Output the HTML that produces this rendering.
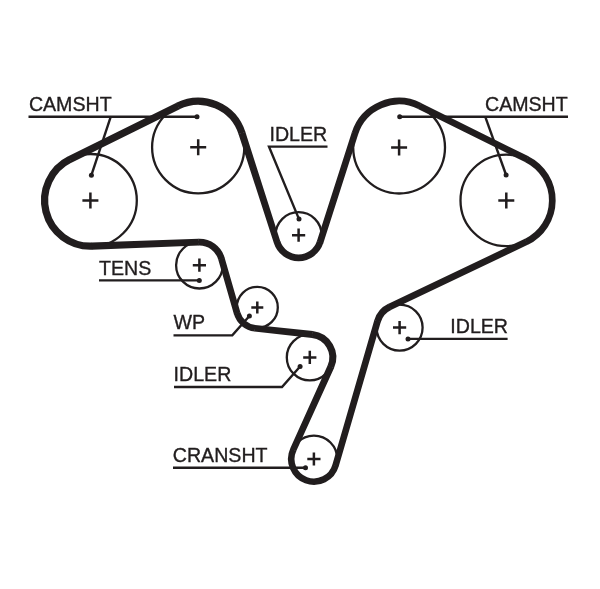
<!DOCTYPE html>
<html><head><meta charset="utf-8"><title>Timing belt diagram</title>
<style>
html,body{margin:0;padding:0;background:#fff;}
body{width:600px;height:589px;overflow:hidden;}
svg{display:block;will-change:transform;}
text{font-family:"Liberation Sans",sans-serif;font-size:19.6px;fill:#211d1e;stroke:#211d1e;stroke-width:0.35px;}
</style></head><body>
<svg width="600" height="589" viewBox="0 0 600 589">
<rect width="600" height="589" fill="#ffffff"/>
<path d="M68.21 156.21L176.48 102.71L179.67 109.16L71.44 162.75Z M245.32 131.80L280.37 241.39L273.99 243.44L238.46 134.01Z M316.84 241.36L351.81 132.14L358.19 134.19L323.22 243.40Z M420.96 102.91L528.52 156.34L525.54 162.34L417.98 108.91Z M527.78 244.83L390.91 310.03L387.98 303.89L524.90 238.78Z M380.86 321.84L338.69 466.52L332.35 464.68L374.33 319.94Z M290.18 448.60L327.69 365.16L334.07 368.05L296.19 451.32Z M312.22 338.05L254.36 331.57L255.08 324.91L312.98 331.09Z M233.98 314.41L218.20 259.49L224.64 257.64L240.42 312.56Z M198.97 245.55L91.94 249.83L91.66 242.53L198.72 238.86Z" fill="#211d1e"/>
<path d="M92.10 246.17A45.80 45.80 0 0 1 70.09 159.35" fill="none" stroke="#211d1e" stroke-width="7.30"/>
<path d="M177.80 106.07A46.00 46.00 0 0 1 241.98 133.19" fill="none" stroke="#211d1e" stroke-width="7.20"/>
<path d="M277.09 242.13A22.60 22.60 0 0 0 320.12 242.09" fill="none" stroke="#211d1e" stroke-width="6.70"/>
<path d="M354.91 133.45A46.40 46.40 0 0 1 419.74 106.04" fill="none" stroke="#211d1e" stroke-width="6.70"/>
<path d="M526.76 159.20A46.00 46.00 0 0 1 526.07 241.94" fill="none" stroke="#211d1e" stroke-width="6.70"/>
<path d="M389.72 306.83A23.00 23.00 0 0 0 377.51 321.18" fill="none" stroke="#211d1e" stroke-width="6.80"/>
<path d="M335.60 465.31A22.60 22.60 0 1 1 293.31 449.69" fill="none" stroke="#211d1e" stroke-width="6.60"/>
<path d="M330.76 366.88A23.00 23.00 0 0 0 312.30 334.54" fill="none" stroke="#211d1e" stroke-width="7.00"/>
<path d="M255.02 328.28A21.00 21.00 0 0 1 237.12 313.20" fill="none" stroke="#211d1e" stroke-width="6.70"/>
<path d="M221.51 258.85A23.00 23.00 0 0 0 198.55 242.22" fill="none" stroke="#211d1e" stroke-width="6.70"/>
<circle cx="90.4" cy="200.4" r="46.4" fill="none" stroke="#211d1e" stroke-width="2.30"/>
<path d="M82.4 200.4H98.4M90.4 192.4V208.4" stroke="#211d1e" stroke-width="2.5" fill="none"/>
<circle cx="198.2" cy="147.3" r="46.1" fill="none" stroke="#211d1e" stroke-width="2.30"/>
<path d="M190.2 147.3H206.2M198.2 139.3V155.3" stroke="#211d1e" stroke-width="2.5" fill="none"/>
<circle cx="298.6" cy="235.2" r="23.0" fill="none" stroke="#211d1e" stroke-width="2.30"/>
<path d="M292.0 235.2H305.2M298.6 228.6V241.8" stroke="#211d1e" stroke-width="2.5" fill="none"/>
<circle cx="399.1" cy="147.6" r="45.9" fill="none" stroke="#211d1e" stroke-width="2.30"/>
<path d="M391.1 147.6H407.1M399.1 139.6V155.6" stroke="#211d1e" stroke-width="2.5" fill="none"/>
<circle cx="506.3" cy="200.4" r="45.8" fill="none" stroke="#211d1e" stroke-width="2.30"/>
<path d="M498.3 200.4H514.3M506.3 192.4V208.4" stroke="#211d1e" stroke-width="2.5" fill="none"/>
<circle cx="399.6" cy="327.6" r="23.0" fill="none" stroke="#211d1e" stroke-width="2.30"/>
<path d="M393.0 327.6H406.2M399.6 321.0V334.2" stroke="#211d1e" stroke-width="2.5" fill="none"/>
<circle cx="313.9" cy="459.0" r="23.4" fill="none" stroke="#211d1e" stroke-width="2.30"/>
<path d="M307.3 459.0H320.5M313.9 452.4V465.6" stroke="#211d1e" stroke-width="2.5" fill="none"/>
<circle cx="309.8" cy="357.4" r="23.0" fill="none" stroke="#211d1e" stroke-width="2.30"/>
<path d="M303.2 357.4H316.4M309.8 350.8V364.0" stroke="#211d1e" stroke-width="2.5" fill="none"/>
<circle cx="257.3" cy="307.4" r="20.5" fill="none" stroke="#211d1e" stroke-width="2.30"/>
<path d="M251.3 307.4H263.3M257.3 301.4V313.4" stroke="#211d1e" stroke-width="2.5" fill="none"/>
<circle cx="199.4" cy="265.2" r="23.3" fill="none" stroke="#211d1e" stroke-width="2.30"/>
<path d="M192.8 265.2H206.0M199.4 258.6V271.8" stroke="#211d1e" stroke-width="2.5" fill="none"/>
<text x="28.9" y="111.2" text-anchor="start">CAMSHT</text>
<polyline points="28.5,116.8 197.0,116.8" fill="none" stroke="#211d1e" stroke-width="2.40" stroke-linejoin="miter"/>
<polyline points="110.7,116.8 91.4,175.2" fill="none" stroke="#211d1e" stroke-width="2.40" stroke-linejoin="miter"/>
<circle cx="197.0" cy="116.8" r="2.5" fill="#211d1e"/>
<circle cx="91.4" cy="175.2" r="2.5" fill="#211d1e"/>
<text x="269.5" y="141.0" text-anchor="start">IDLER</text>
<polyline points="299.0,219.1 269.0,146.6 327.5,146.6" fill="none" stroke="#211d1e" stroke-width="2.40" stroke-linejoin="miter"/>
<circle cx="299.0" cy="219.1" r="2.5" fill="#211d1e"/>
<text x="485.0" y="111.2" text-anchor="start">CAMSHT</text>
<polyline points="399.7,116.8 568.0,116.8" fill="none" stroke="#211d1e" stroke-width="2.40" stroke-linejoin="miter"/>
<polyline points="485.3,116.8 506.1,175.0" fill="none" stroke="#211d1e" stroke-width="2.40" stroke-linejoin="miter"/>
<circle cx="399.7" cy="116.8" r="2.5" fill="#211d1e"/>
<circle cx="506.1" cy="175.0" r="2.5" fill="#211d1e"/>
<text x="99.0" y="274.5" text-anchor="start">TENS</text>
<polyline points="99.0,280.4 199.3,280.4" fill="none" stroke="#211d1e" stroke-width="2.40" stroke-linejoin="miter"/>
<circle cx="199.3" cy="280.4" r="2.5" fill="#211d1e"/>
<text x="173.6" y="329.4" text-anchor="start">WP</text>
<polyline points="173.5,335.4 232.3,335.4 249.4,316.0" fill="none" stroke="#211d1e" stroke-width="2.40" stroke-linejoin="miter"/>
<circle cx="249.4" cy="316.0" r="2.5" fill="#211d1e"/>
<text x="173.6" y="381.3" text-anchor="start">IDLER</text>
<polyline points="174.0,387.0 282.0,387.0 300.1,366.5" fill="none" stroke="#211d1e" stroke-width="2.40" stroke-linejoin="miter"/>
<circle cx="300.1" cy="366.5" r="2.5" fill="#211d1e"/>
<text x="172.8" y="461.7" text-anchor="start">CRANSHT</text>
<polyline points="173.0,467.8 305.5,467.8" fill="none" stroke="#211d1e" stroke-width="2.40" stroke-linejoin="miter"/>
<circle cx="305.5" cy="467.8" r="2.5" fill="#211d1e"/>
<text x="450.3" y="333.1" text-anchor="start">IDLER</text>
<polyline points="408.0,338.9 507.6,338.9" fill="none" stroke="#211d1e" stroke-width="2.40" stroke-linejoin="miter"/>
<circle cx="408.0" cy="338.9" r="2.5" fill="#211d1e"/>
</svg>
</body></html>
